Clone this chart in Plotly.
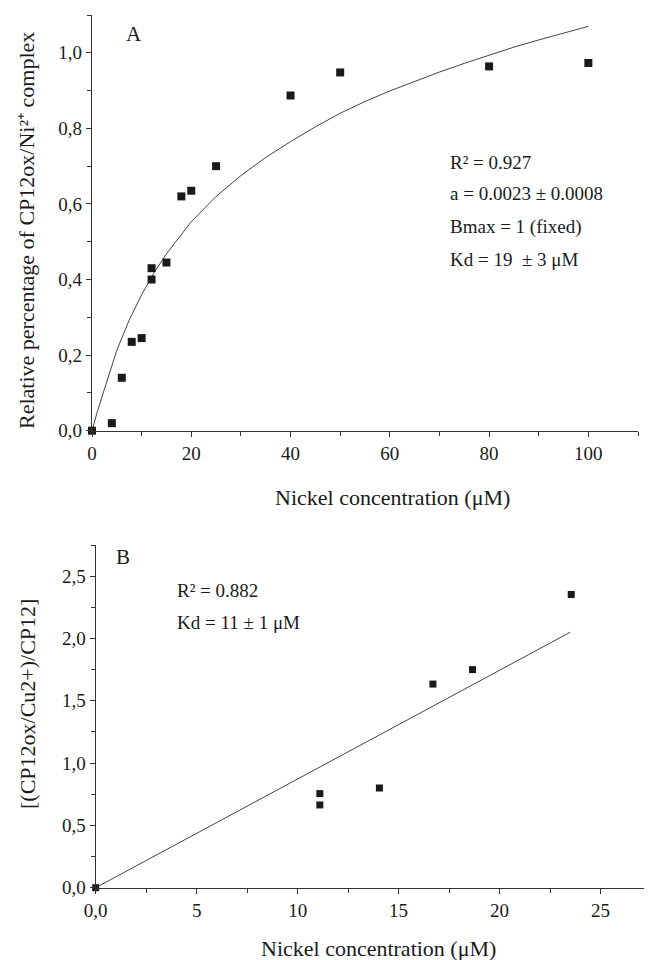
import plotly.graph_objects as go

# Panel A data
a_x = [0, 4, 6, 8, 10, 12, 12, 15, 18, 20, 25, 40, 50, 80, 100]
a_y = [0.0, 0.02, 0.14, 0.235, 0.245, 0.43, 0.40, 0.445, 0.62, 0.635, 0.70, 0.887, 0.948, 0.964, 0.973]
# Panel A fit curve
a_fit_x = [0, 1, 2.5, 5, 7.5, 10, 12.5, 15, 20, 25, 30, 35, 40, 45, 50, 55, 60, 65, 70, 75, 80, 85, 90, 95, 100]
a_fit_y = [0.0, 0.047, 0.11, 0.213, 0.293, 0.36, 0.418, 0.468, 0.553, 0.62, 0.675, 0.723, 0.765, 0.804,
           0.84, 0.871, 0.899, 0.925, 0.949, 0.972, 0.994, 1.015, 1.034, 1.052, 1.07]

# Panel B data
b_x = [0.0, 11.1, 11.1, 14.05, 16.7, 18.66, 23.55]
b_y = [0.0, 0.755, 0.664, 0.80, 1.634, 1.75, 2.353]
b_fit_x = [0.0, 23.5]
b_fit_y = [0.0, 2.05]

a_xticks = [0, 20, 40, 60, 80, 100]
a_xtext = ["0", "20", "40", "60", "80", "100"]
a_yticks = [0.0, 0.2, 0.4, 0.6, 0.8, 1.0]
a_ytext = ["0,0", "0,2", "0,4", "0,6", "0,8", "1,0"]
b_xticks = [0, 5, 10, 15, 20, 25]
b_xtext = ["0,0", "5", "10", "15", "20", "25"]
b_yticks = [0.0, 0.5, 1.0, 1.5, 2.0, 2.5]
b_ytext = ["0,0", "0,5", "1,0", "1,5", "2,0", "2,5"]

FONT = "Liberation Serif"
INK = "#1a1a1a"
AX = "#333333"

fig = go.Figure()
fig.add_trace(go.Scatter(x=a_fit_x, y=a_fit_y, mode="lines",
                         line=dict(color="#444", width=1),
                         xaxis="x", yaxis="y", showlegend=False, hoverinfo="skip"))
fig.add_trace(go.Scatter(x=a_x, y=a_y, mode="markers", marker=dict(symbol="square", size=8, color=INK),
                         xaxis="x", yaxis="y", showlegend=False, cliponaxis=False))
fig.add_trace(go.Scatter(x=b_fit_x, y=b_fit_y, mode="lines", line=dict(color="#444", width=1),
                         xaxis="x2", yaxis="y2", showlegend=False, hoverinfo="skip"))
fig.add_trace(go.Scatter(x=b_x, y=b_y, mode="markers", marker=dict(symbol="square", size=7, color=INK),
                         xaxis="x2", yaxis="y2", showlegend=False, cliponaxis=False))

OFF = 8  # page body margin
W, H = 652 - OFF, 960 - OFF
def dx(a, b):
    return [(a - OFF) / W, min(1.0, (b - OFF) / W)]
def dy(top, bottom):
    return [1 - (bottom - OFF) / H, 1 - (top - OFF) / H]

common = dict(showgrid=False, zeroline=False, showline=True, linecolor=AX, linewidth=1.3,
              ticks="outside", ticklen=5, tickcolor=AX, tickwidth=1.2,
              tickfont=dict(family=FONT, size=19, color=INK), tickmode="array", automargin=False)
minor_common = dict(ticks="outside", ticklen=4, tickcolor=AX, tickwidth=1.1, showgrid=False)

fig.update_layout(
    width=W, height=H, autosize=False,
    margin=dict(l=0, r=0, t=0, b=0),
    paper_bgcolor="white", plot_bgcolor="white",
    font=dict(family=FONT, color=INK),
    xaxis=dict(domain=dx(92, 638), range=[0, 110], anchor="y", tickvals=a_xticks, ticktext=a_xtext,
               minor=dict(dtick=10, tick0=0, **minor_common), **common),
    yaxis=dict(domain=dy(15, 430.7), range=[0, 1.1], anchor="x", tickvals=a_yticks, ticktext=a_ytext,
               minor=dict(dtick=0.1, tick0=0, **minor_common), **common),
    xaxis2=dict(domain=dx(95.7, 651), range=[0, 27.5], anchor="y2", tickvals=b_xticks, ticktext=b_xtext,
                minor=dict(dtick=2.5, tick0=0, **minor_common), **common),
    yaxis2=dict(domain=dy(545, 887.7), range=[0, 2.75], anchor="x2", tickvals=b_yticks, ticktext=b_ytext,
                minor=dict(dtick=0.25, tick0=0, **minor_common), **common),
)

def ann(text, x, y, size=19, angle=0, xanchor="left"):
    fig.add_annotation(text=text, x=(x - OFF) / W, y=1 - (y - OFF) / H, xref="paper", yref="paper",
                       showarrow=False, xanchor=xanchor, yanchor="middle", textangle=angle,
                       font=dict(family=FONT, size=size, color=INK))

# Panel A labels
ann("A", 124, 34, size=21)
ann("R² = 0.927", 448, 163)
ann("a = 0.0023 ± 0.0008", 448, 194)
ann("Bmax = 1 (fixed)", 448, 227)
ann("Kd = 19  ± 3 μM", 448, 260)
ann("Nickel concentration (μM)", 392, 498, size=22, xanchor="center")
ann("Relative percentage of CP12ox/Ni²⁺ complex", 26, 231, size=22, angle=-90, xanchor="center")

# Panel B labels
ann("B", 114, 557, size=21)
ann("R² = 0.882", 175, 590)
ann("Kd = 11 ± 1 μM", 175, 622)
ann("Nickel concentration (μM)", 378, 948, size=22, xanchor="center")
ann("[(CP12ox/Cu2+)/CP12]", 27, 704, size=22, angle=-90, xanchor="center")

fig.write_html("out.html")
